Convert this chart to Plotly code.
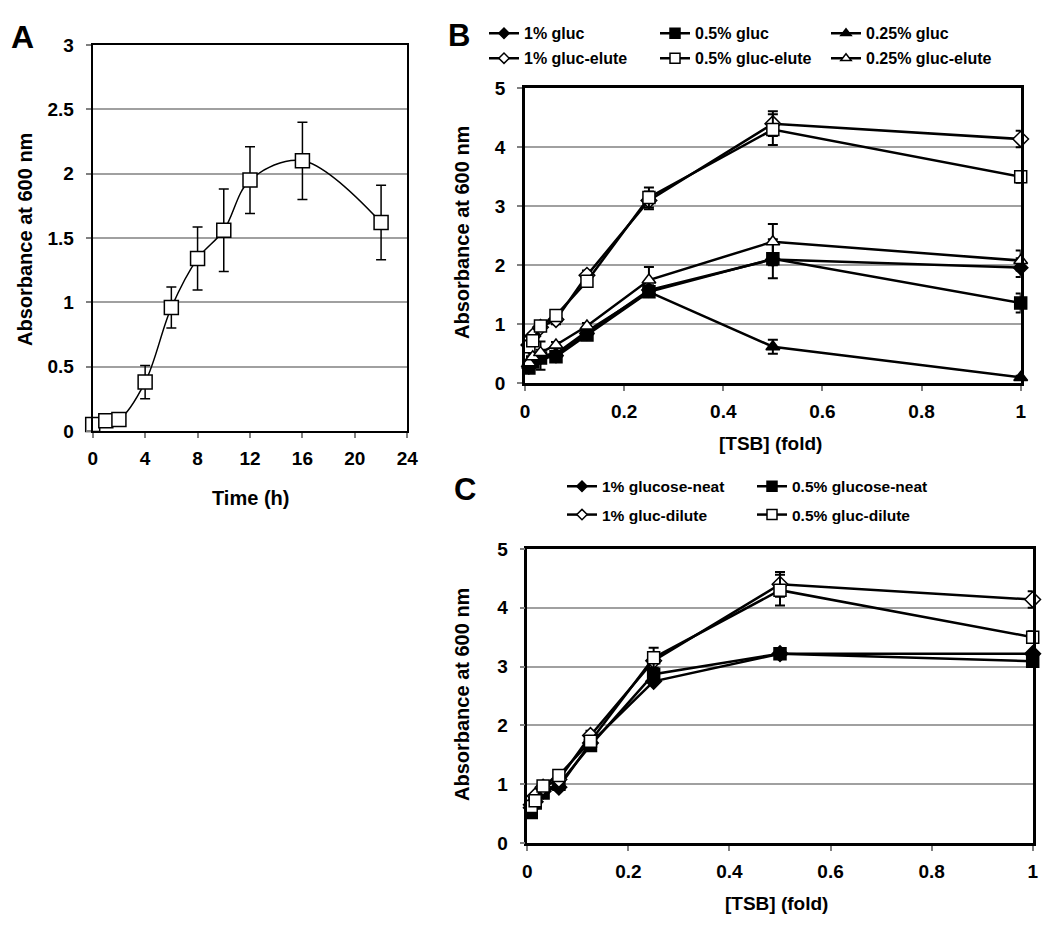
import plotly.graph_objects as go

# ---------------- data ----------------
time_h = [0, 1, 2, 4, 6, 8, 10, 12, 16, 22]
abs_a = [0.05, 0.08, 0.09, 0.38, 0.96, 1.34, 1.56, 1.95, 2.10, 1.62]
err_a = [0.02, 0.02, 0.02, 0.13, 0.16, 0.245, 0.32, 0.26, 0.30, 0.29]

tsb = [0.0078125, 0.015625, 0.03125, 0.0625, 0.125, 0.25, 0.5, 1.0]

gluc1 = [0.28, 0.38, 0.44, 0.47, 0.85, 1.58, 2.10, 1.96]
gluc1_err = [0.05, 0.05, 0.05, 0.05, 0.05, 0.08, 0.10, 0.16]
gluc05 = [0.26, 0.36, 0.43, 0.45, 0.82, 1.55, 2.11, 1.36]
gluc05_err = [0.05, 0.05, 0.05, 0.05, 0.05, 0.06, 0.33, 0.16]
gluc025 = [0.30, 0.40, 0.47, 0.50, 0.88, 1.55, 0.62, 0.10]
gluc025_err = [0.05, 0.05, 0.24, 0.05, 0.05, 0.06, 0.12, 0.03]
elute1 = [0.65, 0.80, 0.95, 1.08, 1.83, 3.10, 4.40, 4.14]
elute1_err = [0.05, 0.05, 0.05, 0.08, 0.08, 0.15, 0.21, 0.14]
elute05 = [0.62, 0.72, 0.97, 1.15, 1.73, 3.15, 4.30, 3.50]
elute05_err = [0.05, 0.05, 0.05, 0.05, 0.08, 0.17, 0.26, 0.10]
elute025 = [0.35, 0.45, 0.52, 0.65, 0.97, 1.75, 2.40, 2.08]
elute025_err = [0.05, 0.05, 0.05, 0.05, 0.05, 0.22, 0.30, 0.17]

neat1 = [0.60, 0.70, 0.88, 0.95, 1.70, 2.75, 3.22, 3.22]
neat05 = [0.52, 0.68, 0.85, 1.00, 1.66, 2.87, 3.22, 3.09]

names_b = ["1% gluc", "0.5% gluc", "0.25% gluc",
           "1% gluc-elute", "0.5% gluc-elute", "0.25% gluc-elute"]
names_c = ["1% glucose-neat", "0.5% glucose-neat", "1% gluc-dilute", "0.5% gluc-dilute"]

# page body has an 8px margin; size the figure to fill the rest of the window
OFF = 8
W, H = 1050 - OFF, 926 - OFF
FONT = "Liberation Sans, Arial, sans-serif"


def px_x(p):
    return (p - OFF) / W


def px_y(p):
    return 1 - (p - OFF) / H


fig = go.Figure()

# ---------------- Panel A ----------------
fig.add_trace(go.Scatter(
    x=time_h, y=abs_a, mode="lines+markers", line=dict(color="black", width=1.5, shape="spline", smoothing=1.0),
    marker=dict(symbol="square", size=14, color="white", line=dict(color="black", width=1.5)),
    error_y=dict(type="data", array=err_a, color="black", thickness=1.5, width=5),
    xaxis="x", yaxis="y", showlegend=False, cliponaxis=False))


def err(a):
    return dict(type="data", array=a, color="black", thickness=2, width=5)


def add_series(x, y, e, name, sym, filled, xa, ya, legend, size=12, lsize=9):
    mcolor = "black" if filled else "white"
    fig.add_trace(go.Scatter(
        x=x, y=y, mode="lines+markers", name=name,
        line=dict(color="black", width=2.5),
        marker=dict(symbol=sym, size=size, color=mcolor, line=dict(color="black", width=1.5)),
        error_y=err(e) if e is not None else None,
        xaxis=xa, yaxis=ya, showlegend=False, cliponaxis=False))
    # legend entry (smaller symbol, like the original key)
    fig.add_trace(go.Scatter(
        x=[None], y=[None], mode="lines+markers", name=name,
        line=dict(color="black", width=2.5),
        marker=dict(symbol=sym, size=lsize, color=mcolor, line=dict(color="black", width=1.5)),
        xaxis=xa, yaxis=ya, legend=legend, showlegend=True))


# ---------------- Panel B ----------------
add_series(tsb, gluc1, gluc1_err, names_b[0], "diamond", True, "x2", "y2", "legend", 11, 8)
add_series(tsb, gluc05, gluc05_err, names_b[1], "square", True, "x2", "y2", "legend", 12, 10)
add_series(tsb, gluc025, gluc025_err, names_b[2], "triangle-up", True, "x2", "y2", "legend", 12, 9)
add_series(tsb, elute1, elute1_err, names_b[3], "diamond", False, "x2", "y2", "legend2", 12, 8)
add_series(tsb, elute05, elute05_err, names_b[4], "square", False, "x2", "y2", "legend2", 12, 10)
add_series(tsb, elute025, elute025_err, names_b[5], "triangle-up", False, "x2", "y2", "legend2", 12, 9)

# ---------------- Panel C ----------------
add_series(tsb, neat1, None, names_c[0], "diamond", True, "x3", "y3", "legend3", 12, 8)
add_series(tsb, neat05, None, names_c[1], "square", True, "x3", "y3", "legend3", 12, 10)
add_series(tsb, elute1, elute1_err, names_c[2], "diamond", False, "x3", "y3", "legend4", 12, 8)
add_series(tsb, elute05, elute05_err, names_c[3], "square", False, "x3", "y3", "legend4", 12, 10)

tickfont = dict(family=FONT, size=19, color="black", weight="bold")

common_x = dict(showline=True, linecolor="black", linewidth=2.5, mirror=True, ticks="outside",
                ticklen=5, tickwidth=1.5, tickcolor="#808080", showgrid=False, zeroline=False,
                tickfont=tickfont, ticklabelstandoff=4, fixedrange=True)
common_y = dict(showline=True, linecolor="black", linewidth=2.5, mirror=True, ticks="outside",
                ticklen=5, tickwidth=1.5, tickcolor="#808080", showgrid=True, gridcolor="#a0a0a0",
                gridwidth=1.5, zeroline=False, tickfont=tickfont, ticklabelstandoff=8, fixedrange=True)

legend_font = dict(family=FONT, size=16, color="black", weight="bold")
legend_common = dict(orientation="h", xanchor="left", yanchor="middle", bgcolor="rgba(0,0,0,0)",
                     font=legend_font, itemwidth=30, entrywidthmode="pixels")

fig.update_layout(
    width=W, height=H, margin=dict(l=0, r=0, t=0, b=0, autoexpand=False),
    paper_bgcolor="white", plot_bgcolor="white",
    font=dict(family=FONT, color="black"),
    xaxis=dict(common_x, domain=[px_x(92.7), px_x(407.3)], range=[0, 24], tickvals=[0, 4, 8, 12, 16, 20, 24],
               linewidth=2),
    yaxis=dict(common_y, domain=[px_y(431), px_y(45)], range=[0, 3], dtick=0.5, linewidth=2),
    xaxis2=dict(common_x, domain=[px_x(525), px_x(1020.7)], range=[0, 1], dtick=0.2, anchor="y2"),
    yaxis2=dict(common_y, domain=[px_y(383.3), px_y(88.3)], range=[0, 5], dtick=1, anchor="x2"),
    xaxis3=dict(common_x, domain=[px_x(527.3), px_x(1032.7)], range=[0, 1], dtick=0.2, anchor="y3"),
    yaxis3=dict(common_y, domain=[px_y(843), px_y(549)], range=[0, 5], dtick=1, anchor="x3"),
    legend=dict(legend_common, x=px_x(484), y=px_y(33.3), entrywidth=126),
    legend2=dict(legend_common, x=px_x(484), y=px_y(58.3), entrywidth=126),
    legend3=dict(legend_common, x=px_x(562), y=px_y(486.7), entrywidth=145, font=dict(legend_font, size=15.5)),
    legend4=dict(legend_common, x=px_x(562), y=px_y(515), entrywidth=145, font=dict(legend_font, size=15.5)),
)

title_font = dict(family=FONT, size=20, color="black", weight="bold")
annots = [
    ("Absorbance at 600 nm", 25, 240, -90, title_font),
    ("Time (h)", 250, 498, 0, title_font),
    ("Absorbance at 600 nm", 462, 233, -90, title_font),
    ("[TSB] (fold)", 770, 443, 0, dict(title_font, size=19)),
    ("Absorbance at 600 nm", 462, 695, -90, title_font),
    ("[TSB] (fold)", 777, 903, 0, dict(title_font, size=19)),
    ("A", 22, 37, 0, dict(title_font, size=32)),
    ("B", 459, 36, 0, dict(title_font, size=31)),
    ("C", 465, 490, 0, dict(title_font, size=31)),
]
for text, x, y, ang, f in annots:
    fig.add_annotation(text=text, x=px_x(x), y=px_y(y), xref="paper", yref="paper",
                       xanchor="center", yanchor="middle", showarrow=False, textangle=ang, font=f)

fig.write_html("out.html")
